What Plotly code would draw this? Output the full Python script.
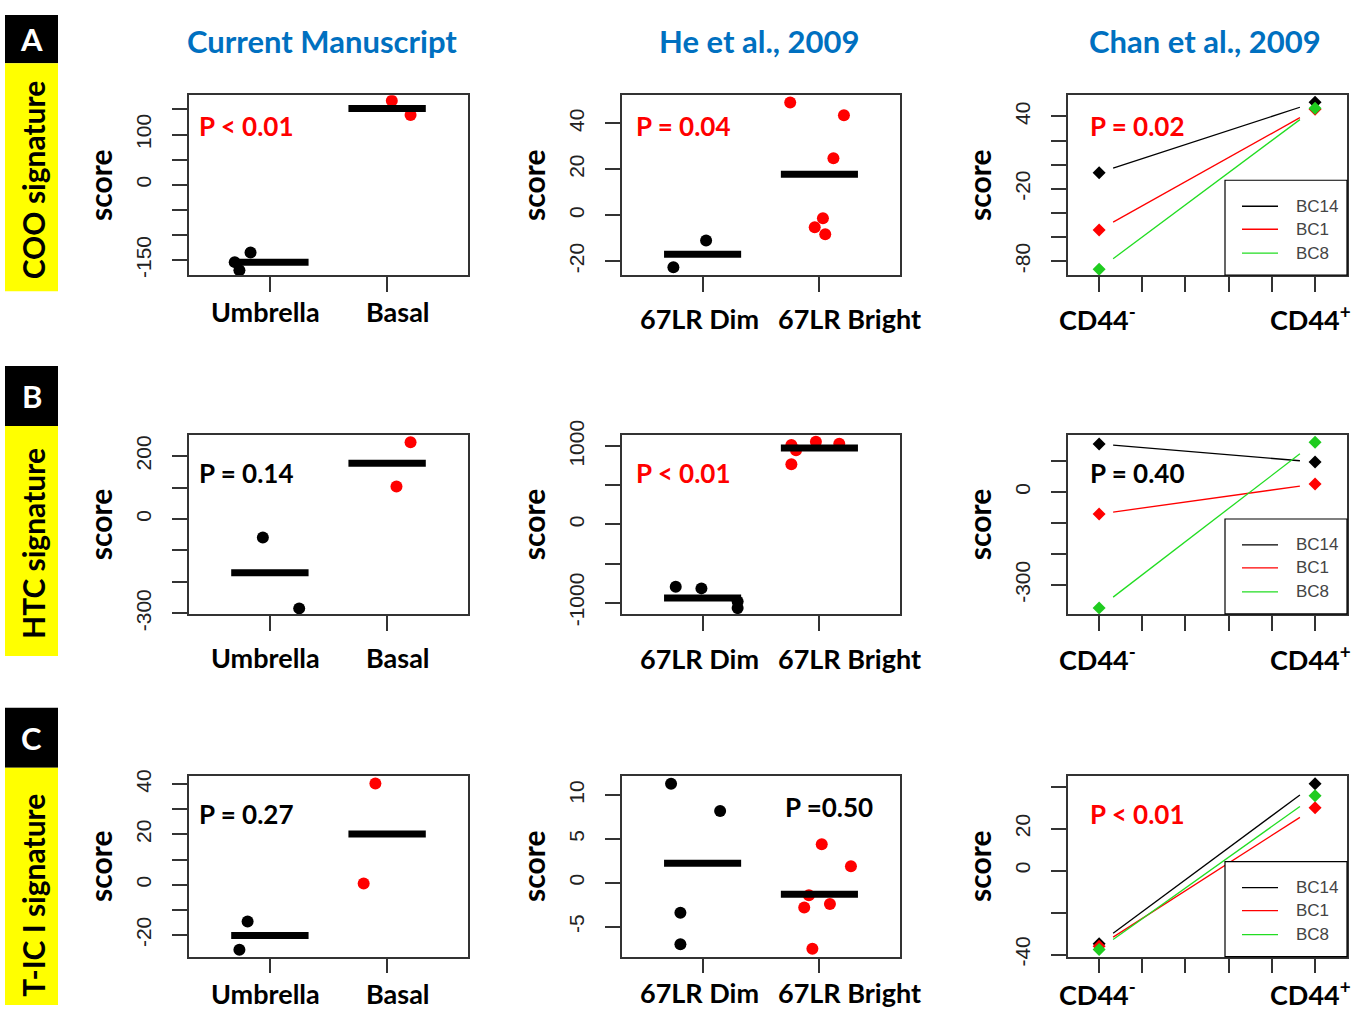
import plotly.graph_objects as go

W = 1363
# vertical placement model of the page inside the photographed frame
TOP, HV = 13.6, 990.8

def px(x):
    return x / W

def py(y):
    v = 1 - (y - TOP) / HV
    return min(1.0, max(0.0, v))

# ---------------- data ----------------
col_titles = ["Current Manuscript", "He et al., 2009", "Chan et al., 2009"]
row_letters = ["A", "B", "C"]
row_names = ["COO signature", "HTC signature", "T-IC I signature"]

cur_cats = ["Umbrella", "Basal"]
he_cats = ["67LR Dim", "67LR Bright"]
chan_cats = ["CD44<sup>-</sup>", "CD44<sup>+</sup>"]
chan_samples = ["BC14", "BC1", "BC8"]

# Row A: COO signature
coo_cur_umbrella = [-170, -135, -154]
coo_cur_umbrella_jit = [-0.26, -0.165, -0.30]
coo_cur_basal = [167, 139]
coo_cur_basal_jit = [0.04, 0.20]
coo_cur_means = [-154, 152]

coo_he_dim = [-22.6, -11.0]
coo_he_dim_jit = [-0.25, 0.03]
coo_he_bright = [49.1, 43.5, 24.8, -1.3, -5.2, -8.3]
coo_he_bright_jit = [-0.25, 0.21, 0.12, 0.03, -0.04, 0.05]
coo_he_means = [-17.0, 17.8]

coo_chan_neg = [-6.7, -54.2, -86.7]   # BC14, BC1, BC8 at CD44-
coo_chan_pos = [51.7, 46.0, 46.7]     # at CD44+

# Row B: HTC signature
htc_cur_umbrella = [-59, -284]
htc_cur_umbrella_jit = [-0.06, 0.25]
htc_cur_basal = [244, 103]
htc_cur_basal_jit = [0.20, 0.08]
htc_cur_means = [-171, 177]

htc_he_dim = [-797, -818, -986, -1070]
htc_he_dim_jit = [-0.23, -0.01, 0.30, 0.30]
htc_he_bright = [772, 1018, 950, 1060, 1034]
htc_he_bright_jit = [-0.24, -0.24, -0.20, -0.03, 0.17]
htc_he_means = [-941, 980]

htc_chan_neg = [155, -71, -374]
htc_chan_pos = [97, 26, 161]

# Row C: T-IC I signature
tic_cur_umbrella = [-14.6, -25.9]
tic_cur_umbrella_jit = [-0.19, -0.26]
tic_cur_basal = [40.2, 0.5]
tic_cur_basal_jit = [-0.10, -0.20]
tic_cur_means = [-20.2, 20.2]

tic_he_dim = [11.3, 8.2, -3.4, -7.0]
tic_he_dim_jit = [-0.27, 0.15, -0.19, -0.19]
tic_he_bright = [4.4, 1.9, -1.4, -2.8, -2.4, -7.5]
tic_he_bright_jit = [0.02, 0.27, -0.09, -0.13, 0.09, -0.06]
tic_he_means = [2.24, -1.28]

tic_chan_neg = [-34.8, -36.0, -37.6]
tic_chan_pos = [41.4, 30.0, 35.7]

p_texts = [["P < 0.01", "P = 0.04", "P = 0.02"],
           ["P = 0.14", "P < 0.01", "P = 0.40"],
           ["P = 0.27", "P =0.50", "P < 0.01"]]
p_signif = [[True, True, True],
            [False, True, False],
            [False, False, True]]

# y axes: ranges, labelled ticks and unlabelled ticks
y_ranges = [[(-180, 178), (-26.1, 52.2), (-91.7, 57.5)],
            [(-301.6, 266.7), (-1145, 1145), (-393.5, 184)],
            [(-28.6, 43.3), (-8.4, 12.2), (-41, 45.2)]]
y_labels = [[[-150, 0, 100], [-20, 0, 20, 40], [-80, -20, 40]],
            [[-300, 0, 200], [-1000, 0, 1000], [-300, 0]],
            [[-20, 0, 20, 40], [-5, 0, 5, 10], [-40, 0, 20]]]
y_minor = [[[-100, -50, 50, 150], [], [-60, -40, 0, 20]],
           [[-200, -100, 100], [-500, 500], [-200, -100, 100]],
           [[-10, 10, 30], [], [-20, 40]]]

chan_major = [1, 2]
chan_minor = [1.2, 1.4, 1.6, 1.8]

# ---------------- styling / layout ----------------
BOLD = "Lato"
RED = "#ff0000"
GREEN_M = "#1fcc1f"
GREEN_L = "#22dd22"
BLUE = "#0070c0"
AX = "#333333"
sample_colors = ["#000000", RED, GREEN_M]
sample_line_colors = ["#000000", RED, GREEN_L]

col_px = [(189, 468), (622, 900), (1068, 1347)]
row_px = [(94, 274), (434, 613), (775, 956)]

strip_data = [
    [(coo_cur_umbrella, coo_cur_umbrella_jit, coo_cur_basal, coo_cur_basal_jit, coo_cur_means),
     (coo_he_dim, coo_he_dim_jit, coo_he_bright, coo_he_bright_jit, coo_he_means)],
    [(htc_cur_umbrella, htc_cur_umbrella_jit, htc_cur_basal, htc_cur_basal_jit, htc_cur_means),
     (htc_he_dim, htc_he_dim_jit, htc_he_bright, htc_he_bright_jit, htc_he_means)],
    [(tic_cur_umbrella, tic_cur_umbrella_jit, tic_cur_basal, tic_cur_basal_jit, tic_cur_means),
     (tic_he_dim, tic_he_dim_jit, tic_he_bright, tic_he_bright_jit, tic_he_means)],
]
chan_data = [(coo_chan_neg, coo_chan_pos), (htc_chan_neg, htc_chan_pos), (tic_chan_neg, tic_chan_pos)]

fig = go.Figure()
layout = dict(autosize=True,
              margin=dict(l=0, r=0, t=0, b=0, pad=0),
              paper_bgcolor="white", plot_bgcolor="white",
              showlegend=False)
shapes = []
annotations = []

MEAN_HALF = 0.33
GAP0, GAP1 = 0.065, 0.93
TICK = dict(ticks="outside", ticklen=15, tickwidth=1.5, tickcolor=AX)

for r in range(3):
    for c in range(3):
        k = r * 3 + c + 1
        xa = "x" if k == 1 else f"x{k}"
        ya = "y" if k == 1 else f"y{k}"
        xl = "xaxis" if k == 1 else f"xaxis{k}"
        yl = "yaxis" if k == 1 else f"yaxis{k}"
        (L, R) = col_px[c]
        (T, B) = row_px[r]
        common = dict(showline=True, mirror=True, linecolor=AX, linewidth=1.5,
                      showgrid=False, zeroline=False, **TICK)
        if c < 2:
            layout[xl] = dict(domain=[px(L), px(R)], anchor=ya, range=[0.31, 2.69],
                              tickmode="array", tickvals=[1, 2], showticklabels=False, **common)
        else:
            layout[xl] = dict(domain=[px(L), px(R)], anchor=ya, range=[0.856, 2.148],
                              tickmode="array", tickvals=chan_major, showticklabels=False,
                              minor=dict(tickmode="array", tickvals=chan_minor, showgrid=False, **TICK),
                              **common)
        ycfg = dict(domain=[py(B), py(T)], anchor=xa, range=list(y_ranges[r][c]),
                    tickmode="array", tickvals=y_labels[r][c],
                    ticktext=[str(v) for v in y_labels[r][c]],
                    tickangle=-90, ticklabelstandoff=13,
                    tickfont=dict(family="Liberation Sans", size=21, color="#222222"),
                    title=dict(text="<b>score</b>", standoff=10,
                               font=dict(family=BOLD, size=30, color="black")),
                    **common)
        if y_minor[r][c]:
            ycfg["minor"] = dict(tickmode="array", tickvals=y_minor[r][c], showgrid=False, **TICK)
        layout[yl] = ycfg

        if c < 2:
            g1, j1, g2, j2, means = strip_data[r][c]
            fig.add_trace(go.Scatter(x=[1 + j for j in j1], y=g1, mode="markers",
                                     marker=dict(size=12, color="black"),
                                     xaxis=xa, yaxis=ya, hoverinfo="skip"))
            fig.add_trace(go.Scatter(x=[2 + j for j in j2], y=g2, mode="markers",
                                     marker=dict(size=12, color=RED),
                                     xaxis=xa, yaxis=ya, hoverinfo="skip"))
            for i, m in enumerate(means):
                fig.add_trace(go.Scatter(x=[i + 1 - MEAN_HALF, i + 1 + MEAN_HALF], y=[m, m],
                                         mode="lines", line=dict(color="black", width=7),
                                         xaxis=xa, yaxis=ya, hoverinfo="skip"))
        else:
            neg, pos = chan_data[r]
            for s in range(3):
                y0 = neg[s] + (pos[s] - neg[s]) * GAP0
                y1 = neg[s] + (pos[s] - neg[s]) * GAP1
                fig.add_trace(go.Scatter(x=[1 + GAP0, 1 + GAP1], y=[y0, y1], mode="lines",
                                         line=dict(color=sample_line_colors[s], width=1.3),
                                         name=chan_samples[s],
                                         xaxis=xa, yaxis=ya, hoverinfo="skip"))
            for s in range(3):
                fig.add_trace(go.Scatter(x=[1, 2], y=[neg[s], pos[s]], mode="markers",
                                         marker=dict(symbol="diamond", size=10,
                                                     color=sample_colors[s]),
                                         xaxis=xa, yaxis=ya, hoverinfo="skip"))
            # legend box (decoration)
            lt = B - 95
            shapes.append(dict(type="rect", xref="paper", yref="paper",
                               x0=px(1225), x1=px(R), y0=py(B), y1=py(lt),
                               line=dict(color="black", width=1.2), fillcolor="white",
                               layer="above"))
            for s, off in enumerate([69, 46, 22]):
                yy = B - off
                shapes.append(dict(type="line", xref="paper", yref="paper",
                                   x0=px(1242), x1=px(1278), y0=py(yy), y1=py(yy),
                                   line=dict(color=sample_line_colors[s], width=1.3),
                                   layer="above"))
                annotations.append(dict(text=chan_samples[s], xref="paper", yref="paper",
                                        x=px(1294), y=py(yy), xanchor="left", yanchor="middle",
                                        showarrow=False,
                                        font=dict(family="Liberation Sans", size=17,
                                                  color="#444444")))

        # P value text
        p_x = [197, 634, 1088][c]
        p_y = row_px[r][0] + [31, 38, 38][r]
        if r == 2 and c == 1:
            p_x, p_y = 783, 806
        annotations.append(dict(text=f"<b>{p_texts[r][c]}</b>", xref="paper", yref="paper",
                                x=px(p_x), y=py(p_y), xanchor="left", yanchor="middle",
                                showarrow=False,
                                font=dict(family=BOLD, size=26,
                                          color=RED if p_signif[r][c] else "black")))

        # category labels
        cats = [cur_cats, he_cats, chan_cats][c]
        label_y = [[310, 317, 317], [657, 658, 657], [993, 992, 992]][r][c]
        shifts = [[-4, 11], [-3, 30], [-2, -5]][c]
        for i, name in enumerate(cats):
            annotations.append(dict(text=f"<b>{name}</b>", xref=xa, yref="paper",
                                    x=i + 1, y=py(label_y), xshift=shifts[i],
                                    xanchor="center", yanchor="middle", showarrow=False,
                                    font=dict(family=BOLD, size=27, color="black")))

# column titles
for c, t in enumerate(col_titles):
    annotations.append(dict(text=f"<b>{t}</b>", xref="paper", yref="paper",
                            x=px([322, 759, 1205][c]), y=py(40), xanchor="center",
                            yanchor="middle", showarrow=False,
                            font=dict(family=BOLD, size=31, color=BLUE)))

# row labels
row_boxes = [(3, 62, 290), (365, 425, 655), (707, 767, 1017)]
for r in range(3):
    t0, t1, t2 = row_boxes[r]
    shapes.append(dict(type="rect", xref="paper", yref="paper", x0=px(5), x1=px(58),
                       y0=py(t1), y1=py(t0), fillcolor="black", line=dict(width=0),
                       layer="below"))
    shapes.append(dict(type="rect", xref="paper", yref="paper", x0=px(5), x1=px(58),
                       y0=py(t2), y1=py(t1), fillcolor="#ffff00", line=dict(width=0),
                       layer="below"))
    annotations.append(dict(text=f"<b>{row_letters[r]}</b>", xref="paper", yref="paper",
                            x=px(31.5), y=py((max(t0, TOP) + t1) / 2), showarrow=False,
                            xanchor="center", yanchor="middle",
                            font=dict(family=BOLD, size=31, color="white")))
    annotations.append(dict(text=f"<b>{row_names[r]}</b>", xref="paper", yref="paper",
                            x=px(33), y=py((t1 + t2) / 2 + 3), showarrow=False, textangle=-90,
                            xanchor="center", yanchor="middle",
                            font=dict(family=BOLD, size=30, color="black")))

layout["shapes"] = shapes
layout["annotations"] = annotations
fig.update_layout(**layout)

post = (
    "var de=document.documentElement.style;de.height='100%';de.margin='0';de.overflow='hidden';"
    "var bs=document.body.style;bs.height='100%';bs.margin='0';bs.overflow='hidden';"
    "var gd=document.getElementById('{plot_id}');"
    "gd.parentElement.style.height='100%';gd.parentElement.style.width='100%';"
    "gd.style.height='100%';gd.style.width='100%';"
    "Plotly.Plots.resize(gd);"
)
fig.write_html("out.html", default_width="100%", default_height="100%",
               config={"responsive": True, "displayModeBar": False}, post_script=post)
